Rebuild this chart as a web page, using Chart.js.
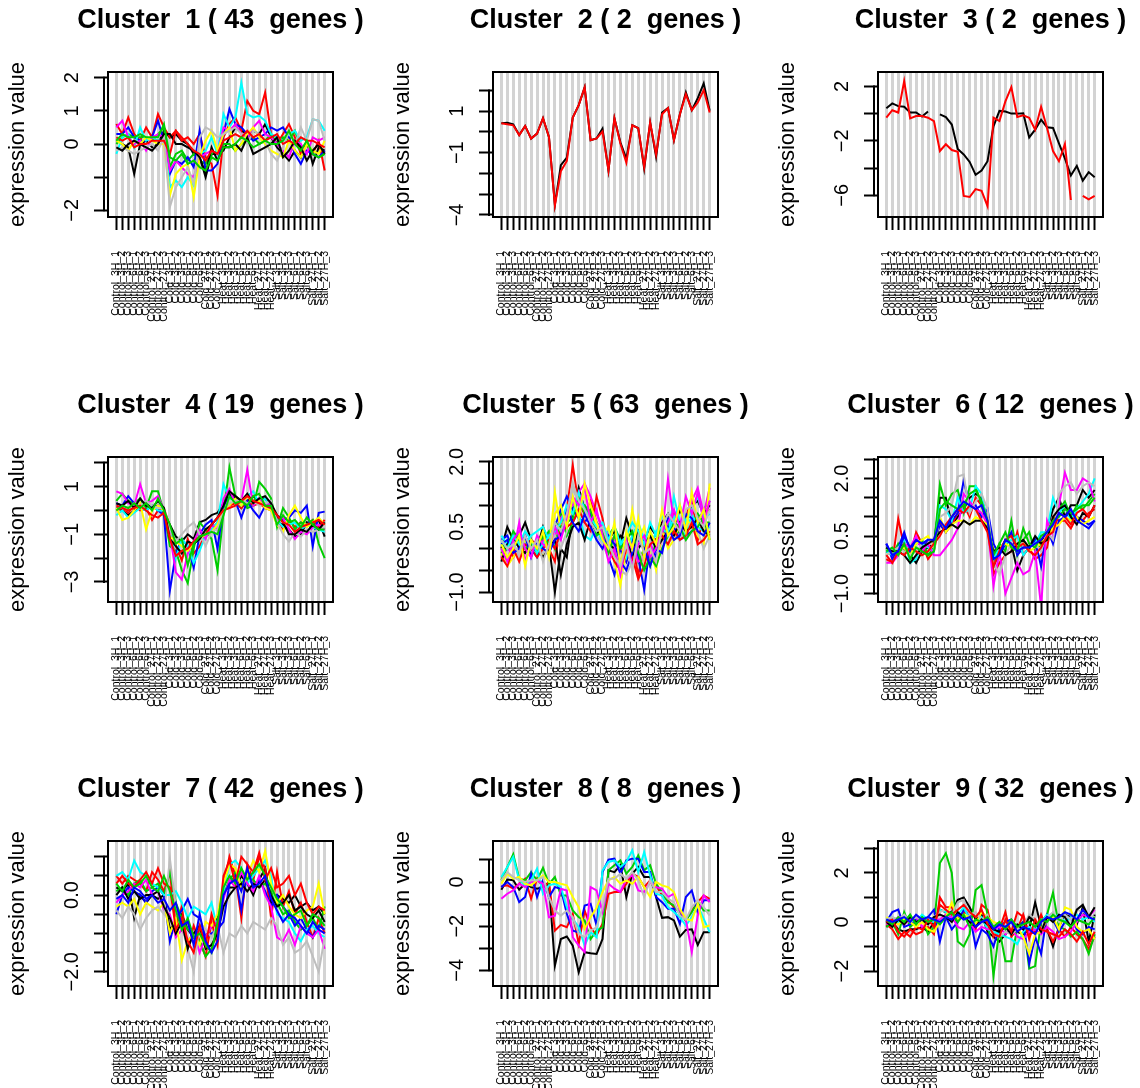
<!DOCTYPE html>
<html>
<head>
<meta charset="utf-8">
<script src="https://cdn.jsdelivr.net/npm/chart.js@4/dist/chart.umd.min.js"></script>
<style>
  html, body { margin: 0; padding: 0; background: #fff; overflow: hidden; }
  #page { position: relative; width: 1140px; height: 1088px; overflow: hidden; background: #fff; }
  .panel { position: absolute; }
</style>
</head>
<body>
<div id="page"></div>
<script>
// sample names (x axis)
const samples = [
  'Control_3H_1', 'Control_3H_2', 'Control_3H_3', 'Control_6H_1', 'Control_6H_2', 'Control_6H_3', 'Control_27H_1', 'Control_27H_2', 'Control_27H_3',
  'Cold_3H_1', 'Cold_3H_2', 'Cold_3H_3', 'Cold_6H_1', 'Cold_6H_2', 'Cold_6H_3', 'Cold_27H_1', 'Cold_27H_2', 'Cold_27H_3',
  'Heat_3H_1', 'Heat_3H_2', 'Heat_3H_3', 'Heat_6H_1', 'Heat_6H_2', 'Heat_6H_3', 'Heat_27H_1', 'Heat_27H_2', 'Heat_27H_3',
  'Salt_3H_1', 'Salt_3H_2', 'Salt_3H_3', 'Salt_6H_1', 'Salt_6H_2', 'Salt_6H_3', 'Salt_27H_1', 'Salt_27H_2', 'Salt_27H_3'
];
const positions = [1, 2, 3, 4, 5, 6, 7, 8, 9, 10, 11, 12, 13, 14, 15, 16, 17, 18,
  19, 20, 21, 22, 23, 24, 25, 26, 27, 28, 29, 30, 31, 32, 33, 34, 35, 36];

const titles = [
  'Cluster  1 ( 43  genes )', 'Cluster  2 ( 2  genes )', 'Cluster  3 ( 2  genes )',
  'Cluster  4 ( 19  genes )', 'Cluster  5 ( 63  genes )', 'Cluster  6 ( 12  genes )',
  'Cluster  7 ( 42  genes )', 'Cluster  8 ( 8  genes )', 'Cluster  9 ( 32  genes )'
];

// y axis range / ticks per panel
const yMin = [-2.2, -4.1, -7.6, -3.84, -1.23, -1.22, -2.37, -4.71, -2.61];
const yMax = [2.17, 2.89, 3.06, 2.24, 2.11, 2.56, 1.41, 1.86, 3.3];
const yTicks = [
  [2, 1, 0, -1, -2], [2, 1, 0, -1, -2, -3, -4], [2, 0, -2, -4, -6],
  [2, 1, 0, -1, -2, -3], [2, 1.5, 1, 0.5, 0, -0.5, -1], [2.5, 2, 1.5, 1, 0.5, 0, -0.5, -1],
  [1, 0.5, 0, -0.5, -1, -1.5, -2], [1, 0, -1, -2, -3, -4], [3, 2, 1, 0, -1, -2]
];
const yTickLabels = [
  ['2', '1', '0', '', '−2'], ['', '1', '', '−1', '', '', '−4'], ['2', '', '−2', '', '−6'],
  ['', '1', '', '−1', '', '−3'], ['2.0', '', '', '0.5', '', '', '−1.0'], ['', '2.0', '', '', '0.5', '', '', '−1.0'],
  ['', '', '0.0', '', '', '', '−2.0'], ['', '0', '', '−2', '', '−4'], ['', '2', '', '0', '', '−2']
];

// expression values, one row per gene
const cluster1 = [
  [0.1,0.0,-0.1,-0.9,0.0,0.1,-0.1,0.0,0.4, 0.2,0.3,0.1,0.0,-0.3,-0.4,-1.0,-0.3,-0.3, -0.2,0.2,0.5,0.4,0.3,0.4,0.3,0.6,0.2, -0.1,-0.3,-0.5,-0.2,-0.4,0.1,-0.6,-0.1,-0.2],
  [0.6,0.3,0.8,0.3,0.1,0.5,0.2,0.9,0.5, 0.2,0.4,0.1,0.2,0.0,0.3,-0.4,-0.6,-1.55, 0.2,0.6,0.8,0.4,1.3,1.0,0.9,1.55,0.3, 0.0,0.3,0.6,0.2,-0.3,0.0,-0.3,0.1,-0.8],
  [0.0,0.2,0.3,0.2,0.2,0.2,0.1,0.3,0.5, -0.7,-0.3,-0.2,-0.5,-0.3,-0.5,-0.6,-0.3,-0.2, 0.0,0.0,-0.2,0.0,0.1,0.2,0.0,0.1,0.3, 0.0,0.2,0.1,0.4,-0.1,0.0,-0.3,-0.4,-0.3],
  [0.3,0.3,0.5,0.2,0.1,0.1,0.2,0.7,0.1, -0.9,-0.5,-0.6,-0.4,-0.7,0.4,-0.8,-0.8,-0.6, 0.3,1.05,0.6,0.5,0.3,0.1,0.2,0.3,0.5, 0.4,0.5,0.2,-0.3,-0.6,-0.2,-0.3,-0.4,-0.2],
  [-0.3,0.2,0.3,-0.1,0.5,0.1,0.2,0.1,0.2, -1.3,-1.1,-1.3,-1.0,-1.25,-0.3,-0.2,0.2,-0.3, 0.9,0.5,0.8,1.85,0.9,0.8,0.85,0.7,0.3, 0.2,0.1,0.3,0.4,0.1,0.2,0.75,0.7,0.4],
  [0.5,0.7,0.2,0.0,0.1,-0.2,0.2,0.3,0.2, -0.8,-0.5,-0.7,-0.9,-1.0,-0.4,-0.3,-0.2,-0.3, 0.5,0.4,0.6,0.3,0.2,0.5,0.7,0.3,0.2, 0.0,-0.2,-0.4,0.1,0.0,-0.3,0.2,0.1,0.2],
  [0.1,0.0,-0.2,0.1,0.0,0.2,0.1,0.0,0.0, -1.55,-0.9,-0.7,-0.6,-1.6,-0.4,0.1,0.4,-0.2, 0.3,0.5,-0.2,0.0,0.3,0.5,0.2,0.0,-0.2, -0.3,-0.4,0.1,-0.2,-0.4,0.0,-0.2,-0.3,0.1],
  [-0.2,-0.1,-0.2,-0.3,-0.2,-0.1,0.0,-0.2,0.2, -1.9,-1.3,-1.0,-0.7,-1.2,0.2,0.5,0.4,0.2, 0.3,0.4,0.5,0.3,0.0,0.4,0.3,0.1,-0.3, -0.5,-0.1,0.4,0.0,0.5,0.1,0.75,0.7,0.1],
  [-0.1,-0.2,0.0,0.1,0.0,-0.1,-0.2,0.0,0.3, 0.3,0.0,0.0,-0.1,-0.2,-0.4,-0.9,-0.1,-0.5, -0.1,-0.1,0.0,-0.2,0.2,-0.3,-0.2,-0.1,0.0, 0.2,-0.4,-0.2,0.1,-0.1,-0.5,-0.2,0.0,-0.3],
  [0.2,0.1,0.2,-0.1,0.0,0.0,0.1,0.1,0.1, -0.3,0.4,0.2,0.0,-0.2,-0.3,-0.5,-0.2,-0.3, 0.1,0.2,0.3,0.2,0.4,0.2,0.3,0.1,0.2, 0.3,0.0,0.1,0.0,0.2,0.1,0.1,0.0,-0.1],
  [0.1,0.3,0.2,0.2,0.3,0.2,0.2,0.2,0.6, -0.4,-0.5,-0.3,-0.6,-0.5,-0.7,-0.8,-0.4,-0.5, -0.1,-0.1,0.0,0.2,0.1,-0.1,0.0,0.1,0.0, 0.0,0.1,0.4,0.0,-0.2,0.1,-0.3,-0.4,-0.3]
];
const cluster2 = [
  [0.42,0.44,0.37,-0.15,0.29,-0.32,-0.08,0.66,-0.24, -3.5,-1.6,-1.24,0.69,1.29,2.15,-0.4,-0.31,0.16, -1.85,0.66,-0.5,-1.3,0.32,0.18,-1.76,0.45,-1.19, 0.94,1.15,-0.39,0.85,1.9,1.05,1.63,2.34,1.02],
  [0.42,0.37,0.32,-0.15,0.29,-0.32,-0.08,0.66,-0.24, -3.53,-1.89,-1.4,0.69,1.29,2.15,-0.4,-0.31,0.02, -1.85,0.66,-0.56,-1.48,0.32,0.18,-1.69,0.45,-1.08, 0.85,1.15,-0.39,0.85,1.82,1.05,1.42,2.02,0.94]
];
const cluster3 = [
  [0.4,0.75,0.55,0.5,0.08,0.08,-0.22,0.15,null, -0.05,-0.25,-0.8,-2.6,-3.0,-3.55,-4.5,-4.18,-3.5, -0.93,0.2,0.15,0.0,0.0,0.03,-1.75,-1.18,-0.45, -1.0,-1.05,-2.18,-3.3,-4.55,-3.85,-4.93,-4.3,-4.68],
  [-0.3,0.25,0.08,2.4,-0.35,-0.18,-0.18,-0.3,-0.55, -2.75,-2.25,-2.68,-2.8,-6.05,-6.13,-5.55,-5.68,-6.8, -0.3,-0.55,0.9,1.95,-0.25,-0.13,-0.3,-1.18,0.5, -1.05,-2.75,-3.5,-2.23,-6.35,null,-6.05,-6.3,-6.05]
];
const cluster4 = [
  [0.1,0.0,-0.2,0.0,0.2,0.3,0.1,0.2,-0.1, -0.6,-1.1,-1.3,-1.0,-1.2,-0.5,-0.4,-0.2,-0.1, 0.3,0.7,0.5,0.1,0.4,0.6,0.4,0.5,0.2, -0.5,-0.6,-0.8,-1.1,-1.0,-0.5,-0.6,-0.4,-1.1],
  [0.0,0.1,-0.1,0.2,0.0,0.1,-0.4,0.0,0.1, -0.7,-1.5,-2.1,-1.2,-1.8,-1.5,-1.0,-0.8,-0.5, 0.0,0.2,0.3,0.1,0.4,0.2,0.3,0.1,0.0, -0.3,-0.8,-0.4,-0.7,-0.5,-0.6,-0.4,-0.7,-0.4],
  [0.4,0.7,0.4,0.3,0.5,0.1,0.8,0.8,-0.1, -1.5,-1.7,-2.5,-3.05,-1.6,-0.5,-0.8,-1.2,-2.5, -0.1,1.8,0.6,0.4,0.1,0.2,1.2,0.9,0.5, -0.7,0.1,-0.3,-0.8,-0.5,-0.6,-0.4,-1.4,-2.0],
  [0.3,0.2,0.6,0.3,0.1,0.0,0.2,0.0,-0.2, -3.35,-1.8,-1.2,-1.5,-2.4,-1.0,-0.6,-0.4,-1.6, 0.2,0.6,0.4,-0.3,0.4,0.0,-0.3,0.2,0.1, -0.2,-0.4,-0.3,0.0,-0.1,0.2,-1.5,-0.1,-0.05],
  [-0.2,0.0,-0.3,-0.1,0.1,0.0,0.2,0.0,0.0, -0.9,-2.0,-1.2,-1.5,-2.2,-1.7,-1.0,-0.8,-0.5, 1.1,0.5,0.4,0.2,0.6,0.8,0.3,0.5,0.1, -0.4,-0.7,-0.6,-0.5,-0.8,-0.6,-0.7,-0.8,-0.9],
  [0.8,0.7,0.3,0.2,1.1,0.3,0.4,0.6,0.0, -1.0,-2.6,-2.9,-1.8,-1.3,-0.8,-1.2,-0.6,-0.8, 0.5,0.9,0.3,0.4,1.7,0.2,0.5,0.2,0.3, -0.5,-0.3,-0.8,-1.2,-0.9,-1.0,-0.7,-0.6,-0.8],
  [0.1,-0.4,-0.3,0.0,0.3,-0.8,0.0,0.2,0.0, -1.1,-1.3,-1.5,-1.7,-1.4,-1.2,-1.0,-0.9,-0.6, 0.0,0.2,0.5,0.2,0.6,0.3,0.4,0.1,0.0, -0.6,-0.9,-0.2,0.2,-0.3,-0.7,-0.5,-0.3,-0.6],
  [0.2,0.1,0.0,0.3,0.2,0.4,0.2,0.1,0.1, -0.8,-1.3,-1.0,-0.7,-0.5,-1.0,-1.5,-0.9,-0.8, 0.0,0.3,0.4,0.5,0.3,0.4,0.2,0.3,0.4, -0.5,-1.0,-1.3,-0.9,-1.1,-0.8,-0.9,-0.8,-0.7],
  [0.3,0.2,0.4,0.1,0.5,0.2,0.1,0.4,0.1, -1.2,-1.5,-1.8,-1.3,-1.4,-1.2,-0.8,-0.6,-0.3, 0.2,0.8,0.6,0.4,0.7,0.3,0.5,0.6,0.3, -0.2,-0.5,-1.0,-1.0,-0.8,-0.9,-0.6,-0.8,-0.5],
  [0.2,0.1,0.0,0.1,0.2,0.0,-0.2,-0.3,-0.1, -1.2,-1.9,-1.7,-1.6,-1.3,-1.1,-1.0,-0.6,-0.3, 0.0,0.1,0.2,0.4,0.6,0.4,0.3,0.2,0.1, -0.2,-0.5,-0.6,-0.9,-0.7,-0.6,-0.5,-0.4,-0.6],
  [0.0,0.2,0.1,0.3,0.1,0.3,0.0,0.5,0.0, -0.6,-1.4,-1.2,-2.3,-1.4,-1.1,-1.0,-0.9,-1.0, -0.2,0.6,0.3,0.4,0.2,0.6,0.7,0.2,0.2, -0.6,-0.2,-0.5,-0.4,-0.7,-0.3,-0.6,-0.8,-0.8]
];
const cluster5 = [
  [0.0,0.5,0.2,0.3,0.6,0.2,0.0,0.5,0.1, -1.0,0.0,-0.2,0.8,1.4,0.9,0.7,0.3,0.5, 0.2,0.4,0.1,0.7,0.3,0.0,0.2,0.5,0.3, 0.6,0.8,0.5,0.9,0.6,1.0,1.1,0.8,1.0],
  [-0.1,0.1,-0.2,0.0,0.1,0.2,0.1,0.3,0.0, -0.3,0.6,0.9,1.92,1.0,0.8,1.1,0.6,0.2, 0.4,-0.2,0.0,-0.3,0.1,-0.6,0.0,0.3,0.2, 0.3,0.5,0.8,0.6,0.7,1.2,0.2,0.7,0.9],
  [0.1,0.0,0.2,0.3,0.2,0.1,0.0,0.2,0.4, 0.0,0.8,0.3,0.6,0.9,1.0,0.8,0.6,0.4, 0.3,0.5,0.2,-0.2,0.3,-0.3,0.0,-0.4,0.2, 0.5,0.6,0.3,0.4,0.7,0.5,0.8,0.6,0.6],
  [0.2,0.3,0.0,0.2,0.3,0.0,-0.2,0.1,0.3, 0.5,0.9,1.2,0.9,0.7,0.6,0.8,0.6,0.4, -0.2,-0.6,0.0,-0.3,0.2,-0.2,-0.95,0.1,-0.2, 0.3,0.7,0.5,0.2,0.3,0.4,0.6,0.9,1.1],
  [0.3,0.1,0.0,0.2,0.1,0.3,0.4,0.5,0.2, 0.1,0.3,0.7,1.1,0.8,0.3,0.2,0.5,0.1, 0.4,0.0,0.2,-0.2,0.3,0.6,0.2,0.0,0.4, 0.5,0.3,1.2,0.6,0.3,0.8,0.5,0.4,0.5],
  [-0.2,0.0,-0.1,0.6,-0.3,0.1,0.0,0.2,-0.1, 0.3,0.7,0.9,1.0,1.3,1.5,1.2,0.8,0.5, 0.3,0.2,0.0,-0.1,0.1,-0.3,-0.2,0.2,-0.4, 0.3,1.6,0.6,0.4,0.5,1.1,1.4,0.8,1.4],
  [-0.1,-0.4,-0.2,0.0,0.2,0.0,0.1,-0.2,0.0, 1.3,0.4,0.9,0.8,1.1,1.2,0.9,0.5,0.3, 0.5,-0.3,-0.85,0.0,0.9,0.2,0.5,0.0,-0.5, 0.4,0.0,0.2,0.6,0.7,0.5,0.3,0.1,1.5],
  [0.0,-0.3,0.1,-0.2,0.0,-0.1,0.1,-0.1,0.0, 0.3,0.0,0.4,1.4,1.0,0.6,0.5,0.3,0.1, -0.2,0.1,-0.5,-0.6,-0.3,0.0,-0.3,0.2,0.1, 0.2,0.1,0.3,0.2,0.5,0.6,0.4,0.0,0.3],
  [-0.3,0.1,0.3,0.0,-0.1,0.2,0.0,-0.2,0.0, 0.2,-0.6,0.1,0.5,0.6,0.2,0.7,0.4,0.3, 0.1,0.0,0.3,0.2,-0.2,0.4,0.1,0.3,0.0, 0.2,0.4,0.3,0.6,0.4,0.5,0.7,0.4,0.3],
  [-0.2,-0.4,0.0,-0.3,0.1,0.0,-0.2,0.0,0.2, 0.0,0.4,0.5,0.6,0.9,0.6,0.4,1.2,0.7, 0.0,-0.3,-0.5,0.0,-0.2,-0.7,-0.4,0.1,0.2, 0.3,0.1,0.4,0.2,0.3,0.6,0.1,0.2,0.4],
  [-0.1,0.0,0.4,0.2,0.0,0.1,-0.1,0.3,0.1, 0.6,0.5,0.6,0.7,1.2,0.8,0.9,0.3,0.4, -0.1,0.3,0.0,0.2,0.4,-0.1,-0.5,-0.2,-0.4, 0.0,0.3,0.6,0.5,0.2,0.4,0.5,0.7,0.2],
  [0.1,0.2,-0.1,0.0,0.3,-0.2,0.2,0.0,-0.1, 0.2,0.3,0.9,0.6,0.4,0.8,0.5,0.2,0.0, 0.3,0.1,-0.3,-0.5,-0.1,0.2,0.0,-0.4,0.0, -0.1,0.5,0.2,0.3,0.8,0.7,0.4,0.3,0.6],
  [0.2,0.0,0.3,0.1,0.4,0.2,-0.1,0.1,0.3, 0.4,0.6,1.0,0.8,1.3,0.9,0.7,0.5,0.6, 0.2,0.5,0.1,0.3,0.6,0.4,0.1,0.6,0.3, 0.8,0.4,0.7,1.0,0.6,0.9,1.2,0.7,0.8],
  [0.0,-0.3,0.2,0.4,0.0,-0.2,0.3,0.1,0.0, 0.5,0.2,0.7,1.2,1.0,1.4,0.6,0.9,0.3, -0.3,0.0,-0.6,0.2,-0.4,0.1,0.3,-0.2,0.0, 0.4,0.6,0.9,0.5,1.2,0.8,1.3,0.6,1.1],
  [0.1,-0.2,0.0,0.3,-0.4,0.2,0.0,0.4,-0.2, 0.8,1.0,0.5,1.2,0.7,1.5,1.0,0.6,0.2, 0.0,0.6,-0.4,0.4,0.0,0.7,-0.2,0.4,0.1, 0.9,0.3,0.5,1.0,0.4,1.3,0.6,0.9,0.2],
  [0.2,0.0,0.1,-0.1,0.3,0.0,0.2,-0.3,0.1, 0.6,0.4,0.8,1.5,1.1,0.9,0.6,0.4,0.5, 0.1,-0.2,-0.4,0.1,-0.5,0.3,-0.1,0.0,-0.3, 0.5,0.8,0.6,0.4,0.9,1.0,0.7,0.5,0.9]
];
const cluster6 = [
  [0.1,0.0,0.2,0.3,0.0,-0.2,0.1,0.2,0.3, 1.5,1.5,0.8,1.0,1.2,1.5,1.6,1.5,0.9, -0.3,0.1,0.4,0.3,-0.4,0.0,0.2,0.4,0.3, 0.7,1.2,1.5,1.0,1.3,1.3,1.7,1.5,1.7],
  [-0.1,-0.2,0.95,0.2,0.0,0.6,0.3,-0.1,0.1, 0.9,0.6,0.8,1.1,1.3,1.0,1.5,1.3,0.8, -0.5,-0.2,0.0,0.1,0.6,0.0,0.2,-0.1,0.0, 0.2,1.0,0.9,0.9,0.7,1.0,0.9,1.1,1.2],
  [0.2,0.0,0.3,0.1,0.2,0.3,0.4,0.0,0.2, 1.85,1.3,1.6,1.7,1.1,1.8,1.8,1.3,0.8, -0.2,0.3,0.1,0.9,0.0,0.4,0.6,0.1,0.3, 0.4,0.8,1.2,1.4,1.0,1.3,1.2,1.4,1.6],
  [0.3,-0.1,0.2,0.6,0.1,0.4,0.2,0.4,0.3, 0.8,0.6,0.9,1.1,1.95,1.3,1.3,1.0,1.2, 0.3,0.0,0.3,0.6,0.0,0.2,0.2,0.4,-0.3, 0.7,0.3,0.9,1.0,1.1,1.0,0.9,0.8,0.9],
  [0.1,0.0,0.2,0.4,-0.2,-0.1,0.3,0.2,0.1, 1.3,1.2,0.9,1.5,1.1,1.2,1.8,1.6,0.8, -0.1,0.2,0.3,0.4,0.5,0.0,0.2,0.3,0.6, 0.6,1.5,1.1,1.3,0.9,1.2,1.4,1.6,2.0],
  [-0.2,-0.2,0.0,0.3,0.2,0.5,0.1,0.3,0.0, 0.0,0.2,0.4,0.7,1.6,1.4,1.2,1.1,0.8, -0.8,0.1,-1.0,-0.6,-0.2,-0.5,-0.4,0.1,-1.35, 0.9,0.5,1.3,2.15,1.7,1.7,2.0,1.9,1.4],
  [0.0,0.1,0.1,0.2,0.0,0.3,0.4,0.5,0.2, 1.0,0.6,0.8,0.9,0.9,0.8,1.0,0.9,0.8, 0.1,0.2,0.3,0.2,0.3,0.4,0.1,0.2,0.3, 0.5,0.7,0.8,1.0,0.9,1.0,0.8,0.9,1.0],
  [0.0,0.1,0.2,0.1,0.0,0.1,0.3,0.4,0.2, 1.0,1.1,1.3,2.05,2.1,1.1,1.4,1.6,1.2, -0.2,-0.5,0.0,0.3,0.1,0.4,0.2,0.3,0.1, 0.6,0.4,1.6,1.8,1.9,1.6,1.8,1.9,1.8],
  [0.2,0.1,0.1,0.0,-0.2,0.0,0.2,0.3,0.4, 0.6,0.7,0.8,0.7,0.9,0.8,0.9,0.9,0.7, 0.1,0.2,0.0,0.1,0.3,0.4,0.2,0.5,0.3, 0.4,1.0,1.2,1.3,1.0,0.8,1.1,1.0,1.3],
  [0.0,-0.2,0.1,0.0,0.2,0.1,0.0,0.1,0.3, 0.5,0.8,1.0,1.2,1.1,1.3,1.2,0.9,0.6, -0.3,0.1,0.4,0.5,0.2,0.3,0.1,0.0,0.2, 0.5,0.6,1.1,1.0,0.8,1.1,1.2,1.0,1.3],
  [0.1,0.2,0.0,0.3,-0.1,0.2,0.1,0.0,0.1, 1.2,1.4,1.3,1.2,1.3,1.6,1.7,1.4,0.9, 0.0,0.3,0.6,0.2,0.1,0.7,0.3,0.2,0.5, 0.6,0.9,1.0,1.2,1.1,1.2,1.3,1.3,1.5],
  [0.3,0.0,0.1,0.5,0.2,0.4,0.3,0.4,0.4, 0.9,0.7,1.0,1.2,1.4,1.3,1.2,1.3,0.9, -0.1,0.0,0.4,0.3,0.1,0.2,0.2,0.3,0.4, 0.6,0.8,1.1,1.0,1.2,0.9,0.8,0.7,0.9]
];
const cluster7 = [
  [0.2,0.1,0.3,-0.6,0.0,-0.2,0.0,-0.1,0.0, -0.9,-0.7,-0.5,-0.9,-1.1,-0.9,-1.1,-0.8,-0.6, 0.1,0.2,0.2,0.5,0.3,0.0,0.4,0.7,-0.2, 0.0,-0.1,-0.2,0.0,-0.3,-0.2,-0.4,-0.3,-0.5],
  [0.5,0.3,0.5,0.4,0.3,0.1,0.6,0.4,0.1, 0.6,-0.8,-0.3,-1.4,-0.8,-1.2,-1.6,-0.7,-1.3, 0.3,1.0,0.5,-0.6,0.8,0.4,1.0,0.7,-0.6, 0.6,-0.3,0.1,-0.5,-0.2,-0.7,-1.1,-0.6,-1.0],
  [0.1,0.2,0.0,0.3,0.4,0.1,0.2,0.3,0.0, 0.6,-0.2,-0.6,-0.9,-1.0,-1.2,-1.6,-1.4,-0.9, 0.0,0.4,0.6,0.3,0.5,0.4,0.2,0.3,0.1, -0.2,-0.5,-0.4,-0.7,-0.9,-0.8,-0.6,-0.9,-0.3],
  [-0.5,0.0,0.2,0.1,0.0,-0.2,0.1,0.2,0.0, -1.2,-0.6,-0.4,-0.1,-0.5,-0.6,-1.1,-1.0,-0.9, -0.7,0.3,0.5,-0.4,0.6,0.2,0.4,0.1,-0.3, 0.0,-0.3,-0.5,-0.8,-0.6,-0.9,-1.1,-0.8,-0.9],
  [0.5,0.6,0.4,0.9,0.6,0.5,0.3,0.2,0.0, 0.0,0.1,-0.2,-0.6,-0.3,-0.4,-0.5,-0.2,-0.9, 0.1,0.8,0.9,0.7,0.3,0.5,0.7,0.9,0.5, -0.5,-0.6,-0.7,-1.0,-1.2,-0.9,-0.8,-1.0,-1.1],
  [-0.2,0.0,0.1,0.3,0.2,0.4,0.0,0.1,-0.4, -0.5,-1.1,-0.9,-1.2,-1.0,-1.5,-1.1,-0.8,-0.7, -0.1,0.4,0.2,0.6,0.3,0.1,0.5,0.0,-0.3, -1.1,-1.2,-0.9,-1.3,-0.8,-1.0,-1.1,-0.9,-1.4],
  [-0.3,-0.2,-0.3,-0.1,-0.5,-0.2,-0.3,-0.4,-0.2, -1.0,-0.6,-1.7,-1.2,-1.0,-1.3,-0.7,-0.8,-0.5, 0.3,0.8,0.7,0.2,0.5,0.9,0.6,1.15,0.3, -0.2,0.0,-0.3,-0.5,-0.6,-0.4,-0.3,0.3,-0.5],
  [-0.4,-0.6,-0.3,-0.5,-0.9,-0.6,-0.4,-0.3,-0.5, 0.95,-0.3,-0.8,-1.4,-2.0,-0.7,-0.9,-1.1,-0.8, -1.5,-1.0,-1.1,-0.8,-1.0,-0.7,-0.8,-0.9,-0.6, -0.8,-1.3,-1.1,-1.5,-1.4,-1.2,-1.6,-2.0,-1.1],
  [0.0,0.2,-0.1,0.1,-0.1,0.0,0.0,0.1,-0.3, -0.6,-1.0,-0.7,-1.4,-1.0,-0.8,-1.4,-1.3,-1.0, -0.3,0.0,0.2,0.3,0.1,0.3,0.2,0.4,0.0, -0.3,-0.2,0.0,-0.4,-0.3,-0.5,-0.6,-0.4,-0.7],
  [0.3,0.5,0.3,0.2,0.4,0.6,0.3,0.7,0.3, 0.2,-0.9,-0.6,-1.2,-1.5,-0.8,-1.3,-0.5,-1.0, 0.5,0.9,0.3,1.0,0.8,0.6,1.1,0.4,0.7, 0.2,0.3,0.5,0.0,0.3,-0.2,-0.5,-0.3,-0.4],
  [0.3,0.1,0.4,0.2,0.3,0.5,0.2,0.1,0.5, 0.1,-0.4,-0.9,-0.6,-1.1,-1.0,-1.3,-1.5,-0.7, 0.2,0.5,0.3,0.7,0.4,0.6,0.8,0.5,0.2, -0.1,-0.3,-0.6,-0.5,-0.4,-0.8,-0.5,-0.6,-0.8],
  [-0.1,0.0,-0.2,0.2,0.1,-0.1,0.0,-0.2,-0.1, -0.4,-0.2,-0.8,-0.7,-1.3,-0.5,-1.2,-1.5,-1.2, 0.0,0.3,0.4,0.1,0.7,0.2,0.3,0.5,-0.1, -0.4,-0.7,-0.5,-0.6,-0.8,-1.0,-0.7,-0.9,-1.0]
];
const cluster8 = [
  [-0.35,0.11,0.08,-0.35,-0.08,-0.23,-0.3,-0.23,-0.08, -3.79,-2.58,-2.47,-2.88,-4.09,-3.18,-3.23,-3.26,-2.58, 0.53,0.45,0.76,-0.68,0.38,0.68,0.23,0.23,-0.68, -1.62,-1.59,-1.74,-2.47,-2.17,-2.14,-2.85,-2.27,-2.27],
  [-0.2,-0.15,-0.3,-0.08,0.15,-0.76,0.15,-0.23,0.0, -2.2,-1.94,-2.05,-1.44,-2.8,-1.29,-2.05,-2.42,-1.89, -0.53,-0.45,-0.45,-0.08,0.38,0.23,-0.23,0.08,-0.15, -0.61,-0.83,-1.14,-1.36,-1.74,-1.29,-0.91,-0.61,-0.76],
  [0.08,0.68,1.26,0.15,0.08,0.45,0.08,0.65,-0.08, 0.23,-0.61,-0.61,-1.29,-1.59,-1.74,-2.58,-2.2,-2.05, 0.53,0.76,0.98,0.38,0.68,1.21,0.53,0.76,-0.08, -0.45,-0.91,-1.06,-1.44,-1.74,-1.36,-0.91,-1.29,-1.29],
  [-0.23,0.0,-0.23,-0.91,-0.68,0.38,-0.68,0.11,-0.68, -0.23,-0.3,-1.44,-2.2,-2.27,-1.06,-0.98,-1.97,0.45, 1.02,1.06,0.38,0.98,1.06,1.06,0.45,0.45,-0.68, -0.91,-1.21,-1.21,-1.89,-0.68,-0.38,-1.36,-0.83,-0.83],
  [0.23,0.68,1.14,0.08,-0.15,0.08,0.61,-0.53,-0.15, -0.08,-0.23,-1.14,-1.67,-2.05,-2.88,-2.27,-2.5,0.53, 0.91,0.98,0.68,0.91,1.44,0.45,1.36,0.3,-0.53, -0.61,-1.14,-1.36,-1.59,-1.97,-1.59,-1.06,-1.67,-2.27],
  [-0.76,-0.53,-0.38,-0.08,-0.23,0.0,0.08,-0.08,-1.59, -1.52,-0.3,-0.38,-2.5,-2.88,-3.18,-0.23,-0.38,-1.36, -0.08,-0.3,-0.45,0.15,0.3,-0.38,-0.45,0.0,-0.23, -0.3,-0.68,-0.53,-1.29,-1.7,-3.18,-1.52,-0.61,-0.91],
  [-0.08,0.38,0.15,0.23,-0.08,-0.15,0.08,0.3,0.0, 0.0,-0.08,-0.15,-0.68,-1.14,-2.12,-1.59,-1.17,-0.45, 0.08,0.23,-0.08,0.08,-0.08,0.23,-0.23,-0.68,0.0, -0.15,-0.23,-0.45,-1.21,-1.67,-1.74,-0.98,-2.05,-1.97],
  [0.08,0.45,0.23,0.08,0.0,0.08,0.08,0.23,-0.68, -1.29,-1.52,-1.29,-1.59,-2.35,-2.5,-2.2,-2.05,-1.14, 0.15,0.15,0.38,0.15,0.45,0.08,-0.68,0.08,-0.45, -0.45,-0.76,-0.91,-1.52,-1.7,-1.14,-0.83,-1.14,-1.52]
];
const cluster9 = [
  [-0.2,0.0,-0.3,-0.4,-0.3,-0.3,-0.2,-0.4,0.0, 0.5,0.4,0.4,0.9,1.0,0.6,0.1,0.3,-0.4, -0.6,-0.8,-0.5,-0.3,-0.4,-0.5,-0.3,0.8,-0.2, -0.3,-1.0,-0.2,0.3,0.2,-0.1,0.6,-0.8,0.3],
  [-0.1,-0.3,-0.7,-0.4,-0.6,-0.2,-0.3,-0.2,-0.5, 1.0,0.6,0.6,0.1,0.4,0.3,-0.3,0.7,0.5, -0.6,-0.3,0.4,-0.6,-0.3,0.3,-0.5,-0.4,0.3, -0.3,-0.8,-0.3,-0.6,-0.2,-0.5,-0.7,-1.1,-0.6],
  [-0.2,0.0,-0.5,0.4,-0.2,0.0,0.2,-0.5,-0.2, 2.4,2.8,2.0,-0.8,-1.0,-0.5,1.3,1.5,0.3, -2.2,-0.3,-1.6,-1.6,-0.2,0.0,-1.9,-1.8,0.0, 0.3,1.2,-0.2,-0.3,-0.6,-0.4,-0.7,-1.3,-0.5],
  [0.0,0.4,0.5,-0.2,-0.1,0.1,0.0,0.2,0.5, -0.8,0.2,-0.3,0.0,0.5,0.3,-1.0,-0.3,-0.5, -1.0,-0.2,0.0,0.1,-0.3,0.0,-1.7,-0.6,-1.3, 0.3,0.1,-0.4,0.0,0.2,-0.3,-0.5,-0.2,-0.3],
  [0.1,0.2,0.0,0.2,0.1,0.0,0.3,0.1,0.0, 0.5,0.4,0.2,0.3,0.6,0.1,0.0,0.2,-0.3, -0.4,-0.5,-0.6,-0.7,-0.9,-0.4,-0.2,-0.3,0.0, 0.3,0.2,0.3,0.0,0.2,0.3,0.1,0.2,0.0],
  [-0.1,0.0,0.2,-0.1,0.1,0.2,-0.2,0.0,0.1, 0.1,0.3,0.2,-0.2,-0.3,0.0,-0.4,-0.2,-0.3, -0.3,-0.2,-0.5,-0.3,-0.6,-0.7,-0.4,-0.3,-0.5, -0.2,-0.4,-0.7,-0.6,-0.4,0.0,0.3,0.2,0.5],
  [0.2,0.0,-0.1,0.1,0.0,-0.2,0.0,-0.3,-0.4, 0.0,0.2,0.8,0.1,0.3,0.2,-0.1,0.4,0.2, 0.0,-0.1,-0.2,-0.3,-0.2,-0.6,-1.3,-0.5,-0.4, 0.1,0.2,-0.3,0.6,0.5,-0.2,-0.4,-0.3,-0.7],
  [0.1,0.2,0.1,0.3,0.0,0.2,0.1,0.0,0.2, 0.4,0.5,0.3,0.8,0.9,0.3,0.4,0.1,0.3, -0.5,-0.6,-0.4,-0.5,-0.3,-0.2,0.3,0.1,-0.3, 0.2,0.4,0.0,0.3,0.1,0.5,0.4,0.3,0.2],
  [0.0,-0.2,0.1,-0.1,0.2,0.0,0.1,-0.1,0.2, 0.3,0.2,0.0,0.4,0.2,0.0,-0.2,0.1,-0.1, -0.3,-0.4,-0.2,-0.5,-0.1,-0.3,0.2,0.0,-0.4, 0.2,0.0,0.3,0.2,-0.2,0.5,0.7,0.2,0.6],
  [0.0,0.1,-0.4,-0.6,-0.3,-0.5,-0.4,0.1,-0.2, 0.7,0.5,0.3,0.5,0.7,0.4,0.2,0.5,-0.1, -0.5,-0.6,0.1,-0.4,0.4,0.2,-0.7,0.1,-0.3, -0.4,-0.5,-0.6,-0.3,-0.5,-0.8,-0.4,-0.9,-0.4],
  [0.1,-0.1,0.2,0.0,0.3,-0.1,0.2,0.0,0.1, -0.1,0.2,0.4,0.0,0.3,-0.2,0.1,0.0,0.2, -0.2,0.0,-0.3,0.1,-0.2,-0.1,0.0,-0.2,0.1, 0.0,0.3,0.1,0.0,-0.2,0.1,0.0,-0.1,0.2],
  [0.1,0.0,0.1,0.2,0.0,0.3,0.1,0.2,0.1, 0.0,0.2,0.1,0.3,0.1,0.2,-0.2,0.0,0.1, -0.3,-0.1,-0.2,0.0,-0.4,-0.2,-0.3,-0.5,0.0, 0.2,0.1,0.2,0.4,0.3,0.1,0.5,0.2,0.1]
];
const clusters = [cluster1, cluster2, cluster3, cluster4, cluster5, cluster6, cluster7, cluster8, cluster9];

// classic R palette 1:8
const palette = ['#000000', '#FF0000', '#00CD00', '#0000FF', '#00FFFF', '#FF00FF', '#FFFF00', '#BEBEBE'];
const FONT = '"Liberation Sans", Arial, Helvetica, sans-serif';
const page = document.getElementById('page');
const measure = document.createElement('canvas').getContext('2d');

// box around the plot region + R-style y axis line between first and last tick
const boxPlugin = {
    id: 'plotBox',
    afterDatasetsDraw(chart) {
        const { ctx, chartArea: a } = chart;
        const ys = chart.scales.y;
        const ticks = ys.ticks.map(t => ys.getPixelForValue(t.value));
        ctx.save();
        ctx.strokeStyle = '#000';
        ctx.lineWidth = 2;
        ctx.strokeRect(a.left, a.top, a.right - a.left, a.bottom - a.top);
        ctx.beginPath();
        ctx.moveTo(a.left - 4, Math.min(...ticks) - 1);
        ctx.lineTo(a.left - 4, Math.max(...ticks) + 1);
        ctx.stroke();
        ctx.restore();
    }
};

function makePanel(k) {
    const row = Math.floor(k / 3), col = k % 3;
    const div = document.createElement('div');
    div.className = 'panel';
    div.style.left = (col * 385) + 'px';
    div.style.top = Math.round(row * 384.5) + 'px';
    const cv = document.createElement('canvas');
    cv.width = 441;
    cv.height = 384;
    div.appendChild(cv);
    page.appendChild(div);

    measure.font = '20px ' + FONT;
    const widest = Math.max(...yTickLabels[k].map(t => measure.measureText(t).width));

    new Chart(cv, {
        type: 'line',
        data: {
            labels: positions,
            datasets: clusters[k].map((s, i) => ({
                data: s,
                borderColor: palette[i % 8],
                borderWidth: 2,
                pointRadius: 0,
                fill: false,
                tension: 0,
                spanGaps: false,
                order: -i
            }))
        },
        options: {
            responsive: false,
            animation: false,
            events: [],
            layout: { padding: 0 },
            plugins: {
                legend: { display: false },
                tooltip: { enabled: false },
                title: {
                    display: true,
                    text: titles[k],
                    color: '#000',
                    font: { family: FONT, size: 27, weight: 'bold' },
                    padding: { top: 4, bottom: 35.6 }
                }
            },
            scales: {
                x: {
                    type: 'linear',
                    min: -0.4,
                    max: 37.4,
                    afterBuildTicks: s => { s.ticks = positions.map(v => ({ value: v })); },
                    afterFit: s => { s.height = 167; },
                    grid: { color: '#d3d3d3', lineWidth: 3, tickColor: '#000', tickWidth: 2, tickLength: 13 },
                    border: { display: false },
                    ticks: {
                        autoSkip: false, minRotation: 90, maxRotation: 90, padding: 21, color: '#000',
                        font: { family: FONT, size: 10.5 },
                        callback: v => samples[v - 1]
                    }
                },
                y: {
                    min: yMin[k],
                    max: yMax[k],
                    bounds: 'data',
                    afterBuildTicks: s => { s.ticks = yTicks[k].map(v => ({ value: v })); },
                    afterFit: s => { s.width = 108; },
                    grid: { drawOnChartArea: false, tickColor: '#000', tickWidth: 2, tickLength: 14 },
                    border: { display: false },
                    ticks: {
                        autoSkip: false,
                        minRotation: 90, maxRotation: 90, crossAlign: 'center',
                        padding: 22 - widest / 2, color: '#000',
                        font: { family: FONT, size: 20 },
                        callback: (v, i) => yTickLabels[k][i]
                    },
                    title: {
                        display: true, text: 'expression value', color: '#000',
                        font: { family: FONT, size: 22 }, padding: { top: 5, bottom: 0 }
                    }
                },
                y2: {
                    position: 'right',
                    display: true,
                    afterFit: s => { s.width = 108; },
                    grid: { display: false },
                    border: { display: false },
                    ticks: { display: false }
                }
            }
        },
        plugins: [boxPlugin]
    });
}

for (let k = 0; k < 9; k++) makePanel(k);
</script>
</body>
</html>
